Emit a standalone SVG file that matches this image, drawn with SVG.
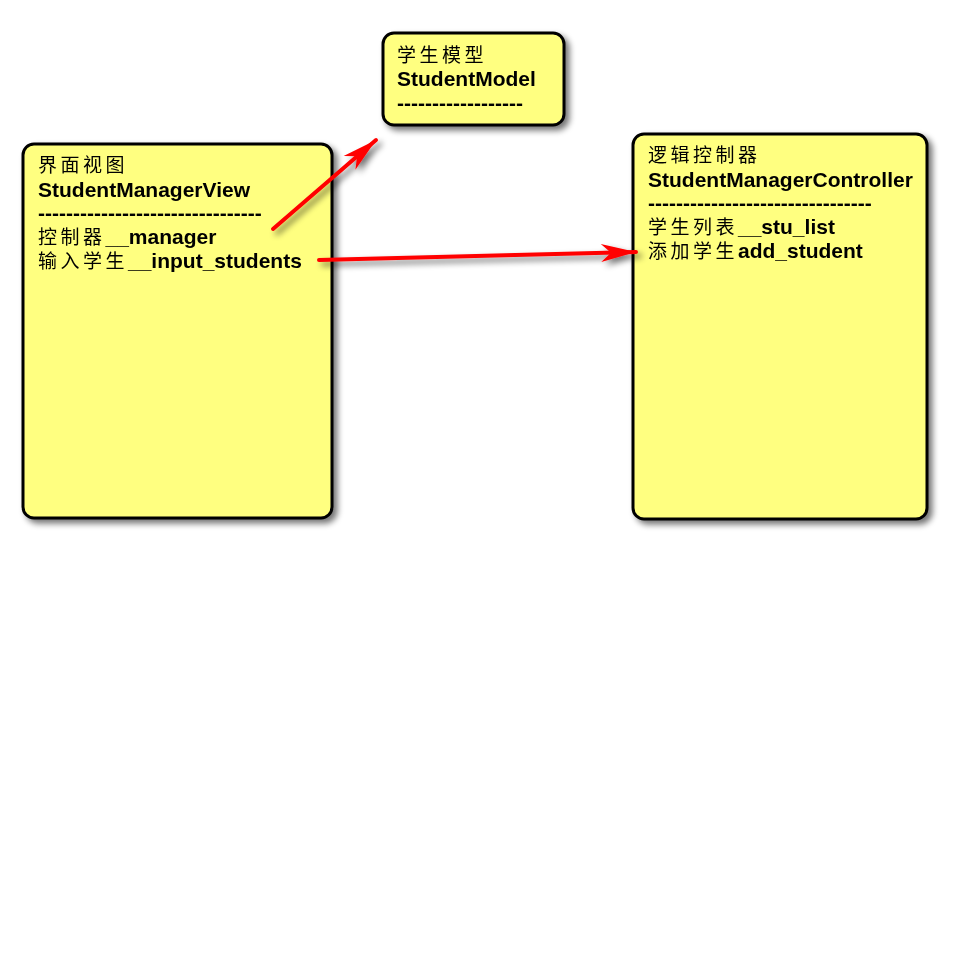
<svg xmlns="http://www.w3.org/2000/svg" width="962" height="974" viewBox="0 0 962 974">
<defs>
<filter id="sh" x="-20%" y="-20%" width="140%" height="140%">
<feGaussianBlur in="SourceAlpha" stdDeviation="3"/>
<feOffset dx="4" dy="4" result="b"/>
<feComponentTransfer><feFuncA type="linear" slope="0.55"/></feComponentTransfer>
<feMerge><feMergeNode/><feMergeNode in="SourceGraphic"/></feMerge>
</filter>
<marker id="ah" markerUnits="userSpaceOnUse" markerWidth="40" markerHeight="24" viewBox="-36 -12 40 24" refX="0" refY="0" orient="auto">
<path d="M0,0 L-35,-9 L-25,0 L-35,9 Z" fill="#ff0000"/>
</marker>
</defs>
<style>
.box{fill:#ffff80;stroke:#000;stroke-width:3}
.t{font-family:"Liberation Sans","Noto Sans CJK SC",sans-serif;font-size:21px;font-weight:bold;fill:#000}
.c{font-family:"Noto Sans CJK SC",sans-serif;font-size:19px;font-weight:normal;letter-spacing:3.5px}
.ar{stroke:#ff0000;stroke-width:4;fill:none;stroke-linecap:round}
</style>
<rect width="962" height="974" fill="#fff"/>
<g id="model" filter="url(#sh)">
<rect class="box" x="383" y="33" width="181" height="92" rx="11"/>
<text class="t" x="397" y="62"><tspan class="c">学生模型</tspan></text>
<text class="t" x="397" y="86">StudentModel</text>
<text class="t" x="397" y="110">------------------</text>
</g>
<g id="view" filter="url(#sh)">
<rect class="box" x="23" y="144" width="309" height="374" rx="11"/>
<text class="t" x="38" y="172"><tspan class="c">界面视图</tspan></text>
<text class="t" x="38" y="197">StudentManagerView</text>
<text class="t" x="38" y="220">--------------------------------</text>
<text class="t" x="38" y="244"><tspan class="c">控制器</tspan>__manager</text>
<text class="t" x="38" y="268"><tspan class="c">输入学生</tspan>__input_students</text>
</g>
<g id="controller" filter="url(#sh)">
<rect class="box" x="633" y="134" width="294" height="385" rx="11"/>
<text class="t" x="648" y="162"><tspan class="c">逻辑控制器</tspan></text>
<text class="t" x="648" y="187">StudentManagerController</text>
<text class="t" x="648" y="210">--------------------------------</text>
<text class="t" x="648" y="234"><tspan class="c">学生列表</tspan>__stu_list</text>
<text class="t" x="648" y="258"><tspan class="c">添加学生</tspan>add_student</text>
</g>
<g id="connectors" filter="url(#sh)">
<path class="ar" d="M273,229 L376,140" marker-end="url(#ah)"/>
<path class="ar" d="M319,260 L636,252" marker-end="url(#ah)"/>
</g>
</svg>
